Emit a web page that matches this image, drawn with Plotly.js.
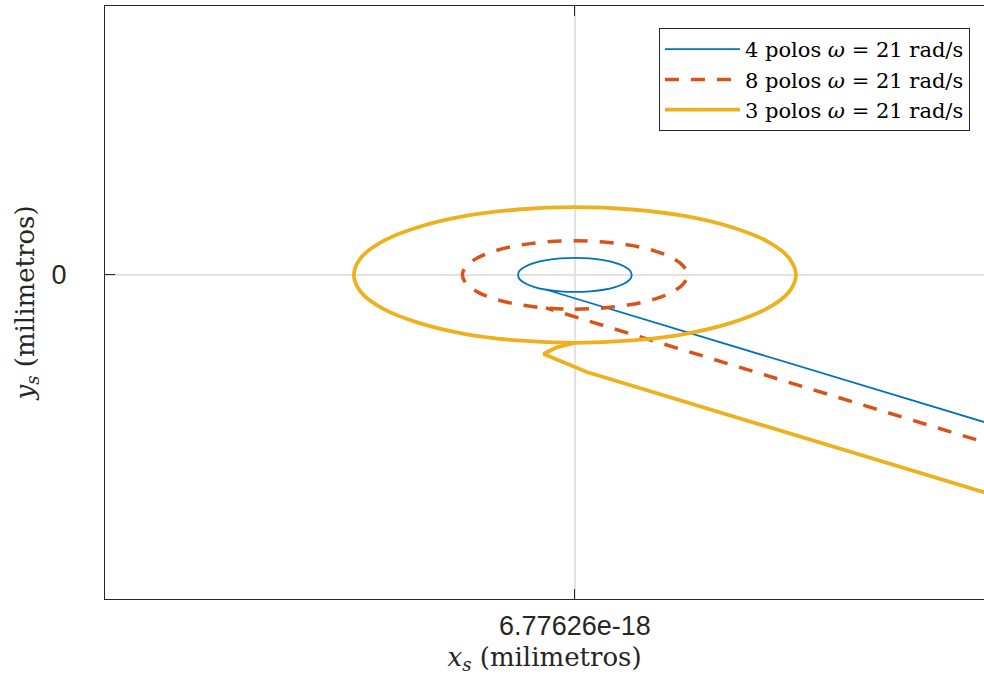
<!DOCTYPE html>
<html>
<head>
<meta charset="utf-8">
<script src="https://cdn.plot.ly/plotly-3.0.1.min.js"></script>
<style>html,body{margin:0;padding:0;background:#fff;}#chart{width:984px;height:675px;}</style>
</head>
<body>
<div id="chart"></div>
<script>
// Series names
const seriesNames = ['4 polos <i>ω</i> = 21 rad/s', '8 polos <i>ω</i> = 21 rad/s', '3 polos <i>ω</i> = 21 rad/s'];

// Steady-state orbits (arbitrary units)
const orbit4x = [-0.50, -0.26, 0, 0.26, 0.50, 0.71, 0.87, 0.97, 1, 0.97, 0.87, 0.71, 0.50, 0.26, 0, -0.26, -0.50, -0.71, -0.87, -0.97, -1, -0.97, -0.87, -0.71, -0.50];
const orbit4y = [-0.87, -0.97, -1, -0.97, -0.87, -0.71, -0.50, -0.26, 0, 0.26, 0.50, 0.71, 0.87, 0.97, 1, 0.97, 0.87, 0.71, 0.50, 0.26, 0, -0.26, -0.50, -0.71, -0.87];
const orbit8x = [-0.51, 0, 0.51, 0.99, 1.40, 1.71, 1.91, 1.98, 1.91, 1.71, 1.40, 0.99, 0.51, 0, -0.51, -0.99, -1.40, -1.71, -1.91, -1.98, -1.91, -1.71, -1.40, -0.99, -0.51];
const orbit8y = [-1.94, -2.01, -1.94, -1.74, -1.42, -1.01, -0.52, 0, 0.52, 1.01, 1.42, 1.74, 1.94, 2.01, 1.94, 1.74, 1.42, 1.01, 0.52, 0, -0.52, -1.01, -1.42, -1.74, -1.94];
const orbit3x = [0, 1.01, 1.95, 2.75, 3.37, 3.76, 3.89, 3.76, 3.37, 2.75, 1.95, 1.01, 0, -1.01, -1.95, -2.75, -3.37, -3.76, -3.89, -3.76, -3.37, -2.75, -1.95, -1.01, 0];
const orbit3y = [-3.99, -3.85, -3.46, -2.82, -2.00, -1.03, 0, 1.03, 2.00, 2.82, 3.46, 3.85, 3.99, 3.85, 3.46, 2.82, 2.00, 1.03, 0, -1.03, -2.00, -2.82, -3.46, -3.85, -3.99];

// Transient start of each trajectory
const start4x = [11.00, -0.50];
const start4y = [-12.49, -0.87];
const start8x = [11.00, -0.51];
const start8y = [-13.72, -1.94];
const start3x = [11.00, 0.21, -0.55, -0.32, 0];
const start3y = [-16.63, -5.71, -4.65, -4.26, -3.99];

// Tick labels
const xTickVals = [0];
const xTickText = ['6.77626e-18'];
const yTickVals = [0];
const yTickText = ['0'];

const colors = ['#0072BD', '#D95319', '#EDB120'];
const widths = [1.8, 3.5, 3.8];
const dashes = ['solid', '14px,12px', 'solid'];

const orbits = [[orbit4x, orbit4y], [orbit8x, orbit8y], [orbit3x, orbit3y]];
const starts = [[start4x, start4y], [start8x, start8y], [start3x, start3y]];

const traces = [];
for (let i = 0; i < 3; i++) {
  traces.push({
    x: starts[i][0], y: starts[i][1], type: 'scatter', mode: 'lines',
    line: {color: colors[i], width: widths[i], dash: dashes[i]},
    showlegend: false, hoverinfo: 'skip'
  });
  traces.push({
    x: orbits[i][0], y: orbits[i][1], type: 'scatter',
    mode: i === 2 ? 'lines+markers' : 'lines',
    marker: {size: 3, color: colors[i]},
    line: {color: colors[i], width: widths[i], dash: dashes[i], shape: 'spline', smoothing: 1},
    name: seriesNames[i], showlegend: true
  });
}
const axisColor = '#262626';
const serif = 'DejaVu Serif, serif';
const layout = {
  width: 984, height: 675,
  margin: {l: 105, r: 0, t: 6, b: 76},
  paper_bgcolor: '#fff', plot_bgcolor: '#fff',
  showlegend: true,
  xaxis: {
    range: [-8.27, 7.20], tickvals: xTickVals, ticktext: xTickText,
    showline: true, linecolor: axisColor, linewidth: 1, mirror: 'ticks',
    ticks: 'inside', ticklen: 10, tickwidth: 1, tickcolor: axisColor,
    showgrid: true, gridcolor: '#e2e2e2', gridwidth: 1.5, zeroline: false,
    tickfont: {family: 'Liberation Sans, Arial, sans-serif', size: 27, color: axisColor},
    ticklabelstandoff: 3,
    title: {text: '<i>x</i><sub><i>s</i></sub> (milimetros)', font: {family: serif, size: 26, color: axisColor}, standoff: 11}
  },
  yaxis: {
    range: [-19.06, 15.82], tickvals: yTickVals, ticktext: yTickText,
    showline: true, linecolor: axisColor, linewidth: 1, mirror: false,
    ticks: 'inside', ticklen: 10, tickwidth: 1, tickcolor: axisColor,
    showgrid: true, gridcolor: '#e2e2e2', gridwidth: 1.5, zeroline: false,
    tickfont: {family: 'Liberation Sans, Arial, sans-serif', size: 27, color: axisColor},
    ticklabelstandoff: 32,
    title: {text: '<i>y</i><sub><i>s</i></sub> (milimetros)', font: {family: serif, size: 26, color: axisColor}, standoff: 9}
  },
  legend: {
    x: 0.984, y: 0.963, xanchor: 'right', yanchor: 'top',
    bgcolor: '#fff', bordercolor: axisColor, borderwidth: 1,
    font: {family: serif, size: 21, color: '#000'},
    itemwidth: 75, tracegroupgap: 0, traceorder: 'normal'
  }
};
Plotly.newPlot('chart', traces, layout, {displayModeBar: false, staticPlot: true});
</script>
</body>
</html>
